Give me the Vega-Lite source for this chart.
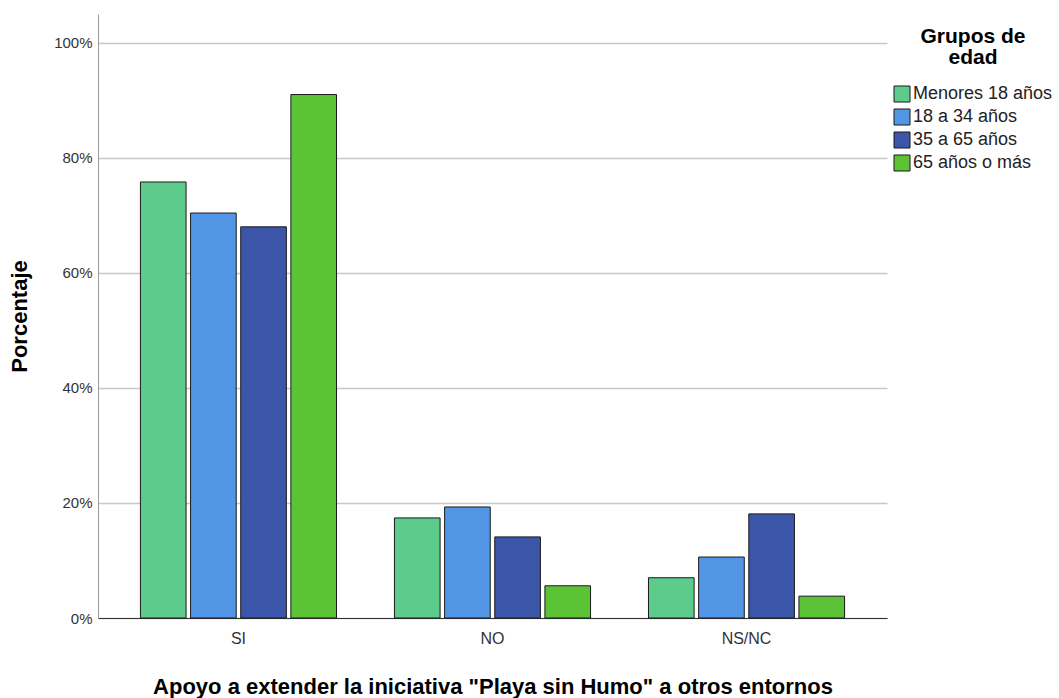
{
  "$schema": "https://vega.github.io/schema/vega-lite/v6.json",
  "autosize": {"type": "none"},
  "width": 789,
  "height": 604,
  "padding": {"left": 98, "top": 14, "right": 172, "bottom": 80},
  "background": "white",
  "config": {"view": {"stroke": null}, "font": "Liberation Sans"},
  "data": {"values": [
    {"resp": "SI", "grupo": "Menores 18 años", "pct": 0.758},
    {"resp": "SI", "grupo": "18 a 34 años", "pct": 0.704},
    {"resp": "SI", "grupo": "35 a 65 años", "pct": 0.680},
    {"resp": "SI", "grupo": "65 años o más", "pct": 0.910},
    {"resp": "NO", "grupo": "Menores 18 años", "pct": 0.174},
    {"resp": "NO", "grupo": "18 a 34 años", "pct": 0.193},
    {"resp": "NO", "grupo": "35 a 65 años", "pct": 0.141},
    {"resp": "NO", "grupo": "65 años o más", "pct": 0.056},
    {"resp": "NS/NC", "grupo": "Menores 18 años", "pct": 0.070},
    {"resp": "NS/NC", "grupo": "18 a 34 años", "pct": 0.106},
    {"resp": "NS/NC", "grupo": "35 a 65 años", "pct": 0.181},
    {"resp": "NS/NC", "grupo": "65 años o más", "pct": 0.038}
  ]},
  "mark": {"type": "bar", "stroke": "#1a1a1a", "strokeWidth": 1},
  "encoding": {
    "x": {
      "field": "resp", "type": "nominal", "sort": ["SI", "NO", "NS/NC"],
      "scale": {"paddingInner": 0.228, "paddingOuter": 0.167},
      "axis": {
        "title": "Apoyo a extender la iniciativa \"Playa sin Humo\" a otros entornos",
        "titleFontSize": 22, "titleFontWeight": "bold", "titleColor": "#000", "titlePadding": 30,
        "labelAngle": 0, "labelFontSize": 16, "labelColor": "#333", "labelPadding": 12,
        "ticks": false, "domainColor": "#333", "domainWidth": 1
      }
    },
    "xOffset": {
      "field": "grupo", "type": "nominal",
      "sort": ["Menores 18 años", "18 a 34 años", "35 a 65 años", "65 años o más"],
      "scale": {"paddingInner": 0.09, "paddingOuter": 0}
    },
    "y": {
      "field": "pct", "type": "quantitative",
      "scale": {"domain": [0, 1.05], "nice": false},
      "axis": {
        "title": "Porcentaje", "titleFontSize": 22, "titleFontWeight": "bold", "titleColor": "#000", "titlePadding": 22,
        "format": ".0%", "values": [0, 0.2, 0.4, 0.6, 0.8, 1.0],
        "labelFontSize": 15, "labelColor": "#333", "labelPadding": 6,
        "ticks": false, "domainColor": "#999", "domainWidth": 1,
        "grid": true, "gridColor": "#c8c8c8", "gridWidth": 1.5
      }
    },
    "color": {
      "field": "grupo", "type": "nominal",
      "sort": ["Menores 18 años", "18 a 34 años", "35 a 65 años", "65 años o más"],
      "scale": {
        "domain": ["Menores 18 años", "18 a 34 años", "35 a 65 años", "65 años o más"],
        "range": ["#5ccb8c", "#5496e6", "#3b56a8", "#5cc236"]
      },
      "legend": {
        "title": ["Grupos de", "edad"], "titleFontSize": 21, "titleFontWeight": "bold", "titleColor": "#000",
        "titleAnchor": "middle", "titleAlign": "center", "titleLineHeight": 21, "titlePadding": 17,
        "orient": "none", "legendX": 795, "legendY": 12,
        "symbolType": "square", "symbolSize": 256, "symbolStrokeColor": "#1a1a1a", "symbolStrokeWidth": 1,
        "symbolOpacity": 1,
        "labelFontSize": 18, "labelColor": "#222", "labelOffset": 2, "rowPadding": 3
      }
    }
  }
}
